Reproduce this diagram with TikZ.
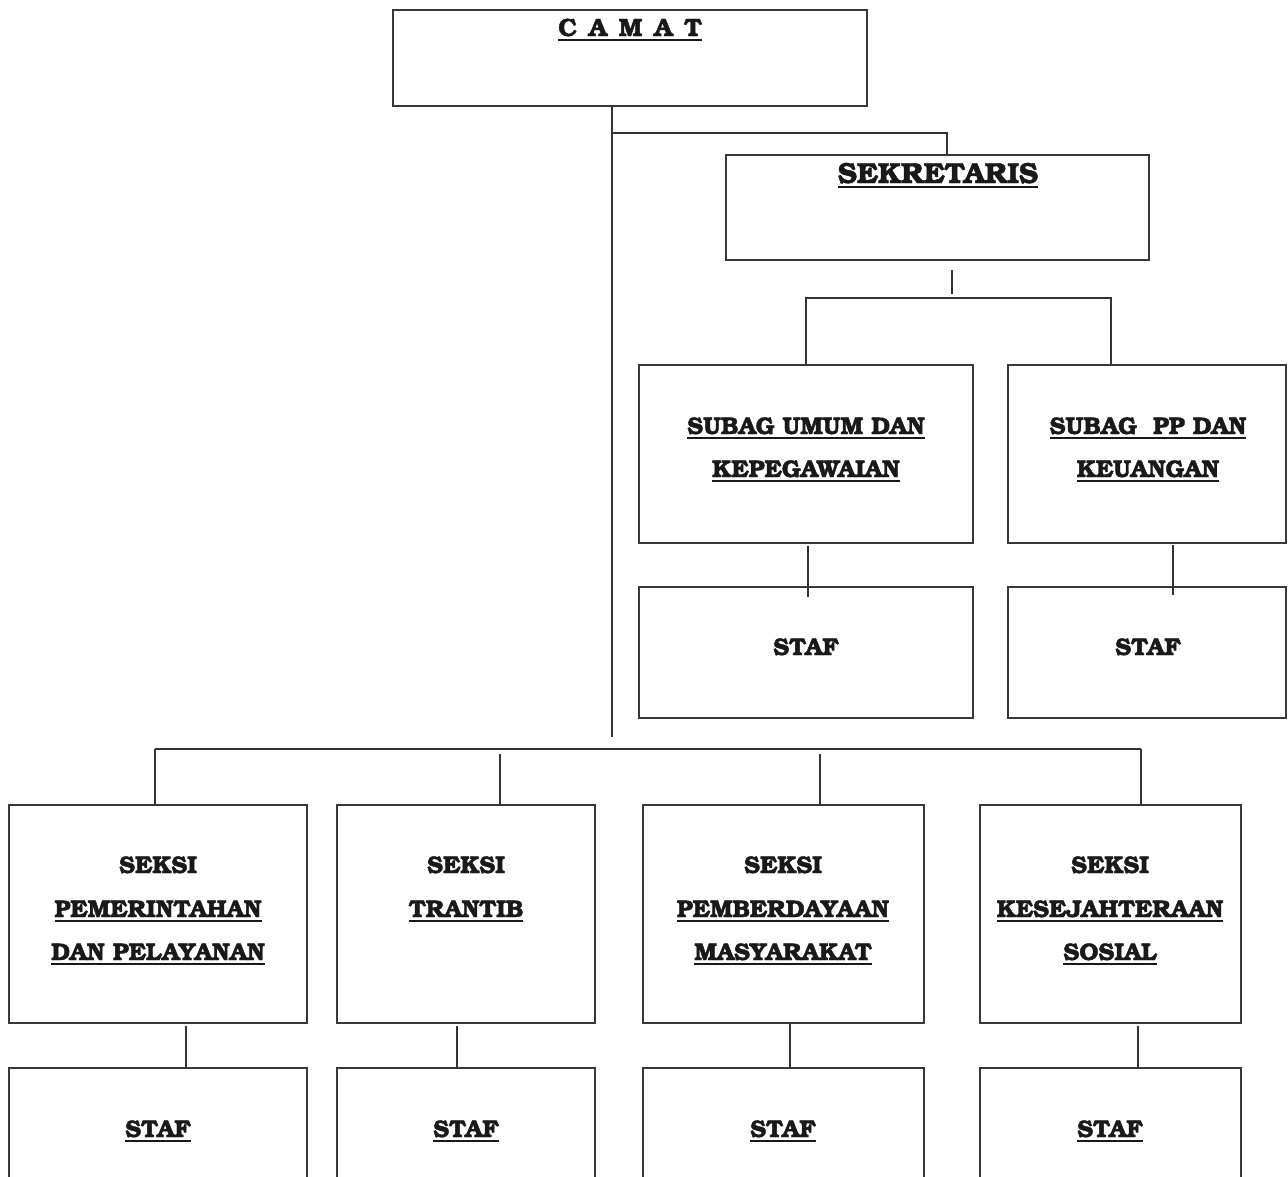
\documentclass[tikz,border=0pt]{standalone}
\usepackage{fontspec}
\setmainfont{TeX Gyre Bonum}[BoldFeatures={FakeBold=1.6}]
\newcommand\myul[1]{\leavevmode\setbox0\hbox{#1}\rlap{\vrule height -2.8pt depth 4.8pt width \wd0}\box0}
\begin{document}
\begin{tikzpicture}[x=1pt,y=-1pt,
  bx/.style={draw=black!78, line width=1.3pt, inner sep=0pt, outer sep=0pt, anchor=north west},
  conn/.style={draw=black!80, line width=1.6pt},
  lbl/.style={anchor=base, inner sep=0pt, text=black!90, font=\fontsize{24}{28}\bfseries\selectfont}]
\clip (0,0) rectangle (1288,1176);
\fill[white] (0,0) rectangle (1288,1176);
\newcommand\bx[5]{\node[bx, minimum width={#4pt-#2pt}, minimum height={#5pt-#3pt}] (#1) at (#2,#3) {};}
\newcommand\txt[4]{\node[lbl] (#1) at (#2,#3) {#4};}
% boxes
\bx{camat}{393}{10}{867}{106}
\bx{sek}{726}{155}{1149}{260}
\bx{sub1}{639}{365}{973}{543}
\bx{sub2}{1008}{365}{1286}{543}
\bx{staf1}{639}{587}{973}{718}
\bx{staf2}{1008}{587}{1286}{718}
\bx{s1}{9}{805}{307}{1023}
\bx{s2}{337}{805}{595}{1023}
\bx{s3}{643}{805}{924}{1023}
\bx{s4}{980}{805}{1241}{1023}
\bx{t1}{9}{1068}{307}{1200}
\bx{t2}{337}{1068}{595}{1200}
\bx{t3}{643}{1068}{924}{1200}
\bx{t4}{980}{1068}{1241}{1200}
% texts
\node[lbl, font=\fontsize{25}{28}\bfseries\selectfont] (tcamat) at (630,36) {\myul{C\hspace{0.48em}A\hspace{0.48em}M\hspace{0.48em}A\hspace{0.48em}T}};
\node[lbl, font=\fontsize{29}{32}\bfseries\selectfont] (tsek) at (938,183) {\myul{SEKRETARIS}};
\txt{ta1}{806}{434}{\myul{SUBAG UMUM DAN}}
\txt{ta2}{806}{477}{\myul{KEPEGAWAIAN}}
\txt{tb1}{1148}{434}{\myul{SUBAG\ \ PP DAN}}
\txt{tb2}{1148}{477}{\myul{KEUANGAN}}
\txt{tstaf1}{806}{655}{STAF}
\txt{tstaf2}{1148}{655}{STAF}
\txt{u1a}{158}{873}{SEKSI}
\txt{u1b}{158}{917}{\myul{PEMERINTAHAN}}
\txt{u1c}{158}{960}{\myul{DAN PELAYANAN}}
\txt{u2a}{466}{873}{SEKSI}
\txt{u2b}{466}{917}{\myul{TRANTIB}}
\txt{u3a}{783}{873}{SEKSI}
\txt{u3b}{783}{917}{\myul{PEMBERDAYAAN}}
\txt{u3c}{783}{960}{\myul{MASYARAKAT}}
\txt{u4a}{1110}{873}{SEKSI}
\txt{u4b}{1110}{917}{\myul{KESEJAHTERAAN}}
\txt{u4c}{1110}{960}{\myul{SOSIAL}}
\txt{v1}{158}{1137}{\myul{STAF}}
\txt{v2}{466}{1137}{\myul{STAF}}
\txt{v3}{783}{1137}{\myul{STAF}}
\txt{v4}{1110}{1137}{\myul{STAF}}
% connectors
\coordinate (jm) at (612,737);
\coordinate (ja) at (612,133);
\coordinate (jb) at (947,133);
\draw[conn] (camat.south -| jm) -- (jm);
\draw[conn] (ja) -- (jb) -- (jb |- sek.north);
\coordinate (jc) at (952,270);
\coordinate (jd) at (952,294);
\draw[conn] (jc) -- (jd);
\coordinate (je) at (806,298);
\coordinate (jf) at (1111,298);
\draw[conn] (sub1.north -| je) -- (je) -- (jf) -- (sub2.north -| jf);
\coordinate (k1) at (808,546);
\coordinate (k1b) at (808,597);
\draw[conn] (k1) -- (k1b);
\coordinate (k2) at (1173,545);
\coordinate (k2b) at (1173,595);
\draw[conn] (k2) -- (k2b);
\coordinate (h1) at (155,749);
\coordinate (h4) at (1141,749);
\draw[conn, line width=2pt] (h1) -- (h4);
\draw[conn] (h1) -- (s1.north -| h1);
\draw[conn] (h4) -- (s4.north -| h4);
\coordinate (h2) at (500,754);
\coordinate (h3) at (820,754);
\draw[conn] (h2) -- (s2.north -| h2);
\draw[conn] (h3) -- (s3.north -| h3);
\coordinate (g1) at (186,1026);
\coordinate (g2) at (457,1026);
\coordinate (g3) at (790,1024);
\coordinate (g4) at (1138,1026);
\draw[conn] (g1) -- (t1.north -| g1);
\draw[conn] (g2) -- (t2.north -| g2);
\draw[conn] (g3) -- (t3.north -| g3);
\draw[conn] (g4) -- (t4.north -| g4);
\end{tikzpicture}
\end{document}
